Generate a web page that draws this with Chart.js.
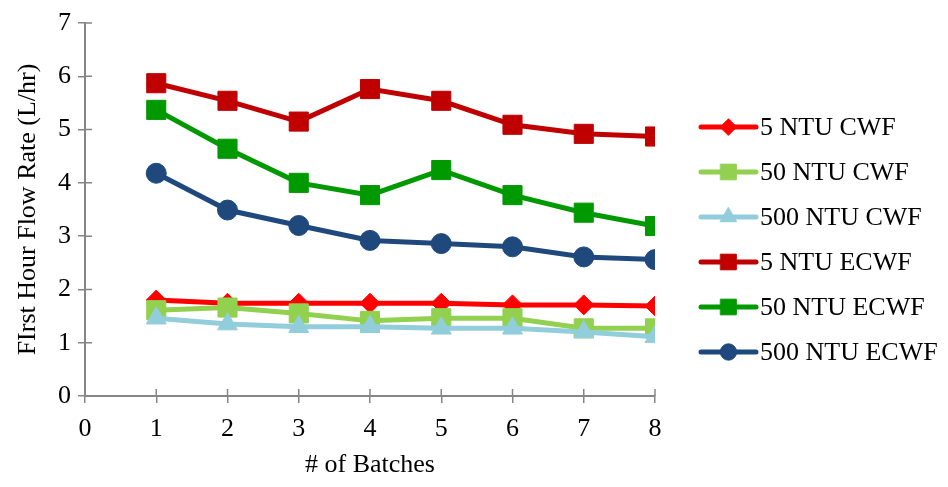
<!DOCTYPE html>
<html>
<head>
<meta charset="utf-8">
<title>First Hour Flow Rate</title>
<script src="https://cdn.jsdelivr.net/npm/chart.js@4.4.1/dist/chart.umd.min.js"></script>
<style>
    html, body { margin: 0; padding: 0; background: #fff; }
    #wrap { width: 948px; height: 487px; position: relative; }
</style>
</head>
<body>
<div id="wrap"><canvas id="myChart"></canvas></div>
<script>
const batches = [1, 2, 3, 4, 5, 6, 7, 8];
const xTicks = [0, 1, 2, 3, 4, 5, 6, 7, 8];
const yTicks = [0, 1, 2, 3, 4, 5, 6, 7];

const seriesNames = ['5 NTU CWF', '50 NTU CWF', '500 NTU CWF', '5 NTU ECWF', '50 NTU ECWF', '500 NTU ECWF'];
const cwf5 = [1.80, 1.74, 1.74, 1.74, 1.74, 1.71, 1.71, 1.69];
const cwf50 = [1.61, 1.66, 1.55, 1.41, 1.46, 1.46, 1.27, 1.27];
const cwf500 = [1.46, 1.35, 1.30, 1.30, 1.27, 1.27, 1.20, 1.11];
const ecwf5 = [5.87, 5.54, 5.15, 5.76, 5.54, 5.09, 4.92, 4.87];
const ecwf50 = [5.37, 4.64, 4.00, 3.77, 4.24, 3.77, 3.44, 3.19];
const ecwf500 = [4.18, 3.49, 3.20, 2.92, 2.86, 2.80, 2.61, 2.56];

const FONT = '"Liberation Serif", "Times New Roman", serif';
const FONT_SIZE = 26;
const AXIS = '#868686';

function toPoints(values) {
    return values.map((v, i) => ({ x: batches[i], y: v }));
}

function series(i, values, color, style, radius) {
    return {
        label: seriesNames[i],
        data: toPoints(values),
        borderColor: color,
        backgroundColor: color,
        pointBackgroundColor: color,
        pointBorderColor: color,
        borderWidth: 5,
        pointBorderWidth: 1,
        pointStyle: style,
        pointRadius: radius,
        pointHoverRadius: radius,
        tension: 0,
        fill: false,
        // later series sit on top
        order: 6 - i
    };
}

const datasets = [
    series(0, cwf5, '#FF0000', 'rectRot', 10),
    series(1, cwf50, '#92D050', 'rect', 13.5),
    series(2, cwf500, '#92CDDC', 'triangle', 11.5),
    series(3, ecwf5, '#C00000', 'rect', 13.5),
    series(4, ecwf50, '#009900', 'rect', 13.5),
    series(5, ecwf500, '#1F497D', 'circle', 10)
];

// small tick marks that cross the axis line, inside half
const crossTicks = {
    id: 'crossTicks',
    afterDraw(chart) {
        const ctx = chart.ctx;
        const xs = chart.scales.x, ys = chart.scales.y;
        const area = chart.chartArea;
        ctx.save();
        ctx.strokeStyle = AXIS;
        ctx.lineWidth = 1.5;
        ctx.beginPath();
        yTicks.forEach(t => {
            const py = ys.getPixelForValue(t);
            ctx.moveTo(area.left, py);
            ctx.lineTo(area.left + 7, py);
        });
        xTicks.forEach(t => {
            const px = xs.getPixelForValue(t);
            ctx.moveTo(px, area.bottom);
            ctx.lineTo(px, area.bottom - 7);
        });
        ctx.stroke();
        ctx.restore();
    }
};

// legend: line with a slightly smaller marker, then the series name
const sideLegend = {
    id: 'sideLegend',
    afterDraw(chart) {
        const ctx = chart.ctx;
        const x0 = 701, x1 = 756, top = 127, step = 45;
        ctx.save();
        chart.data.datasets.forEach((ds, i) => {
            const y = top + i * step;
            ctx.strokeStyle = ds.borderColor;
            ctx.lineWidth = 5;
            ctx.lineCap = 'round';
            ctx.beginPath();
            ctx.moveTo(x0, y);
            ctx.lineTo(x1, y);
            ctx.stroke();
            ctx.fillStyle = ds.pointBackgroundColor;
            ctx.strokeStyle = ds.pointBorderColor;
            ctx.lineWidth = 1;
            Chart.helpers.drawPoint(ctx, {
                pointStyle: ds.pointStyle,
                radius: ds.pointRadius * 0.82,
                rotation: 0,
                borderWidth: 1
            }, (x0 + x1) / 2, y);
            ctx.fillStyle = '#000';
            ctx.font = FONT_SIZE + 'px ' + FONT;
            ctx.textBaseline = 'middle';
            ctx.textAlign = 'left';
            ctx.fillText(ds.label, x1 + 4, y + 1);
        });
        ctx.restore();
    }
};

const ctx = document.getElementById('myChart').getContext('2d');
new Chart(ctx, {
    type: 'line',
    data: { datasets: datasets },
    options: {
        responsive: true,
        maintainAspectRatio: false,
        animation: false,
        layout: { padding: { left: 0, right: 293, top: 23, bottom: 0 } },
        plugins: {
            legend: { display: false },
            tooltip: { enabled: false }
        },
        scales: {
            x: {
                type: 'linear',
                min: 0,
                max: 8,
                afterFit(scale) { scale.height = 91; },
                afterBuildTicks(scale) { scale.ticks = xTicks.map(v => ({ value: v })); },
                border: { color: AXIS, width: 2 },
                grid: { drawOnChartArea: false, drawTicks: true, tickLength: 7, color: AXIS, lineWidth: 1.5 },
                ticks: { color: '#000', font: { family: FONT, size: FONT_SIZE }, padding: 11, maxRotation: 0 },
                title: {
                    display: true,
                    text: '# of Batches',
                    color: '#000',
                    font: { family: FONT, size: FONT_SIZE },
                    padding: { top: 0, bottom: 6 }
                }
            },
            y: {
                min: 0,
                max: 7,
                afterFit(scale) { scale.width = 85; },
                afterBuildTicks(scale) { scale.ticks = yTicks.map(v => ({ value: v })); },
                border: { color: AXIS, width: 2 },
                grid: { drawOnChartArea: false, drawTicks: true, tickLength: 7, color: AXIS, lineWidth: 1.5 },
                ticks: { color: '#000', font: { family: FONT, size: FONT_SIZE }, padding: 7 },
                title: {
                    display: true,
                    text: 'FIrst Hour Flow Rate (L/hr)',
                    color: '#000',
                    font: { family: FONT, size: FONT_SIZE },
                    padding: { top: 13, bottom: 0 }
                }
            }
        }
    },
    plugins: [crossTicks, sideLegend]
});
</script>
</body>
</html>
